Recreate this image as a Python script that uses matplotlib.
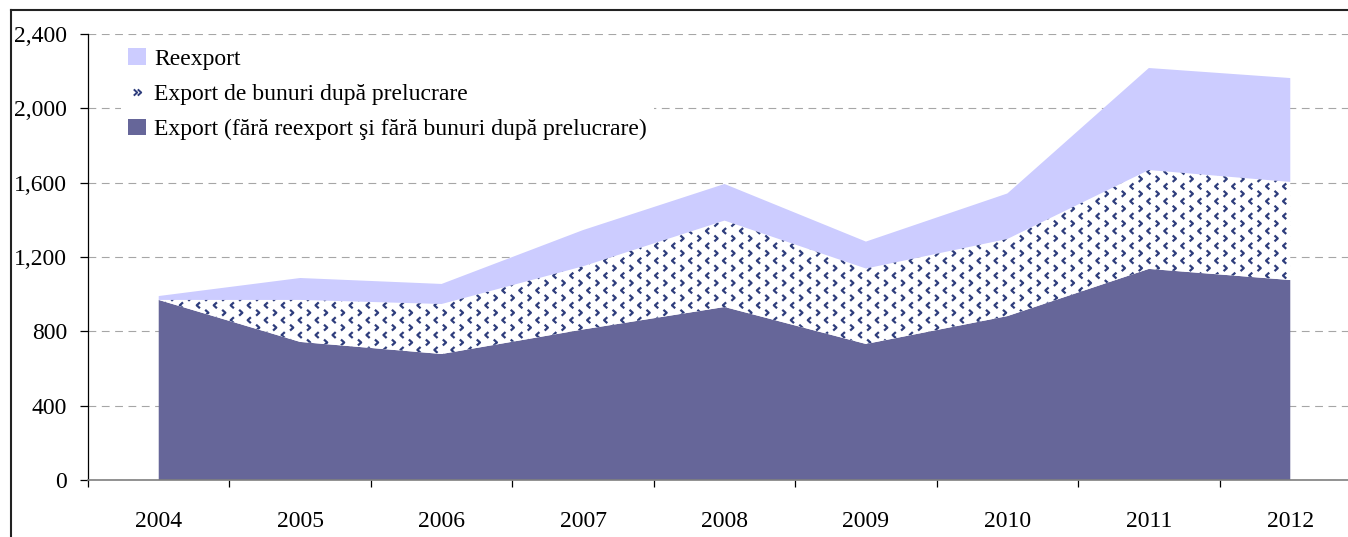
"""Export structure 2004-2012: export, export after processing, reexport (stacked area)."""
import numpy as np
import matplotlib
matplotlib.use("Agg")
import matplotlib.pyplot as plt
from matplotlib.path import Path
from matplotlib.lines import Line2D
from matplotlib.patches import Patch
from matplotlib.ticker import FuncFormatter, FixedLocator

years = ["2004", "2005", "2006", "2007", "2008", "2009", "2010", "2011", "2012"]
export_base = [969, 743, 678, 810, 931, 732, 882, 1136, 1076]
export_processing = [0, 226, 269, 340, 465, 406, 415, 532, 528]
reexport = [21, 118, 108, 195, 197, 145, 245, 549, 559]

labels = [
    "Reexport",
    "Export de bunuri după prelucrare",
    "Export (fără reexport şi fără bunuri după prelucrare)",
]

C_BASE = "#666699"
C_REEXP = "#ccccff"
C_DOTS = "#2e3d7c"

# chevrons for the "după prelucrare" texture
CHEV_L = Path([(0.55, 1.0), (-0.55, 0.0), (0.55, -1.0)], [Path.MOVETO, Path.LINETO, Path.LINETO])
CHEV_R = Path([(-0.55, 1.0), (0.55, 0.0), (-0.55, -1.0)], [Path.MOVETO, Path.LINETO, Path.LINETO])


def main():
    plt.rcParams["font.family"] = ["Liberation Serif", "DejaVu Serif"]
    W, H = 1348, 537
    fig = plt.figure(figsize=(W / 100, H / 100), dpi=100)
    ax = fig.add_axes([88 / W, 1 - 480 / H, (1361 - 88) / W, (480 - 34) / H])

    x = np.arange(len(years))
    polys = ax.stackplot(x, export_base, export_processing, reexport,
                         colors=[C_BASE, "white", C_REEXP], linewidth=0, zorder=2)

    # texture over the middle layer, clipped to its polygon
    dx, dy = 0.12, 40.0
    clip = polys[1].get_paths()[0]
    for i, yy in enumerate(np.arange(dy / 2, 2400, dy)):
        xs = np.arange(-0.5 + (i % 2) * dx / 2, 8.5, dx)
        mk = CHEV_R if i % 2 == 0 else CHEV_L
        sc = ax.scatter(xs, np.full(len(xs), yy), marker=mk, s=18,
                        facecolors="none", edgecolors=C_DOTS, linewidths=1.6, zorder=3)
        sc.set_clip_path(clip, ax.transData)

    ax.set_xlim(-0.5, 8.5)
    ax.set_ylim(0, 2400)
    ax.set_yticks(np.arange(0, 2401, 400))
    ax.yaxis.set_major_formatter(FuncFormatter(lambda v, p: f"{int(v):,}"))
    ax.xaxis.set_major_locator(FixedLocator(np.arange(-0.5, 9, 1)))
    ax.xaxis.set_minor_locator(FixedLocator(x))
    ax.set_xticklabels([])
    ax.set_xticklabels(years, minor=True)
    ax.tick_params(axis="x", which="major", direction="out", length=5, width=0.9, color="black")
    ax.tick_params(axis="x", which="minor", length=0, pad=22, labelsize=17)
    ax.tick_params(axis="y", direction="out", length=6, width=0.9, pad=9, labelsize=17)

    ax.yaxis.grid(True, color="#a6a6a6", linestyle=(0, (7, 5)), linewidth=0.8, zorder=0)
    ax.set_axisbelow(True)
    for s in ("top", "right"):
        ax.spines[s].set_visible(False)
    ax.spines["left"].set_color("black")
    ax.spines["left"].set_linewidth(0.9)
    ax.spines["bottom"].set_color("#7f7f7f")
    ax.spines["bottom"].set_linewidth(1.2)
    ax.spines["bottom"].set_zorder(4)

    handles = [
        Patch(facecolor=C_REEXP, edgecolor="none"),
        Line2D([], [], ls="none", marker=CHEV_R, ms=4.5, mfc="none", mec=C_DOTS, mew=1.4),
        Patch(facecolor=C_BASE, edgecolor="none"),
    ]
    leg = ax.legend(handles, labels, loc="upper left", bbox_to_anchor=(121 / W, 1 - 41 / H),
                    bbox_transform=fig.transFigure, fontsize=17, frameon=True,
                    fancybox=False, edgecolor="none", framealpha=1, borderpad=0.3,
                    borderaxespad=0, handlelength=0.75, handleheight=0.7,
                    handletextpad=0.35, labelspacing=0.58, numpoints=2)
    leg.set_zorder(5)

    # outer frame (cropped at right/bottom)
    fig.add_artist(Line2D([10.5 / W, 1.0], [1 - 9.5 / H, 1 - 9.5 / H], color="#222222", lw=1.5))
    fig.add_artist(Line2D([10.5 / W, 10.5 / W], [0.0, 1 - 9.5 / H], color="#222222", lw=1.5))

    fig.savefig("out.png", dpi=100)
    plt.close(fig)


if __name__ == "__main__":
    main()
